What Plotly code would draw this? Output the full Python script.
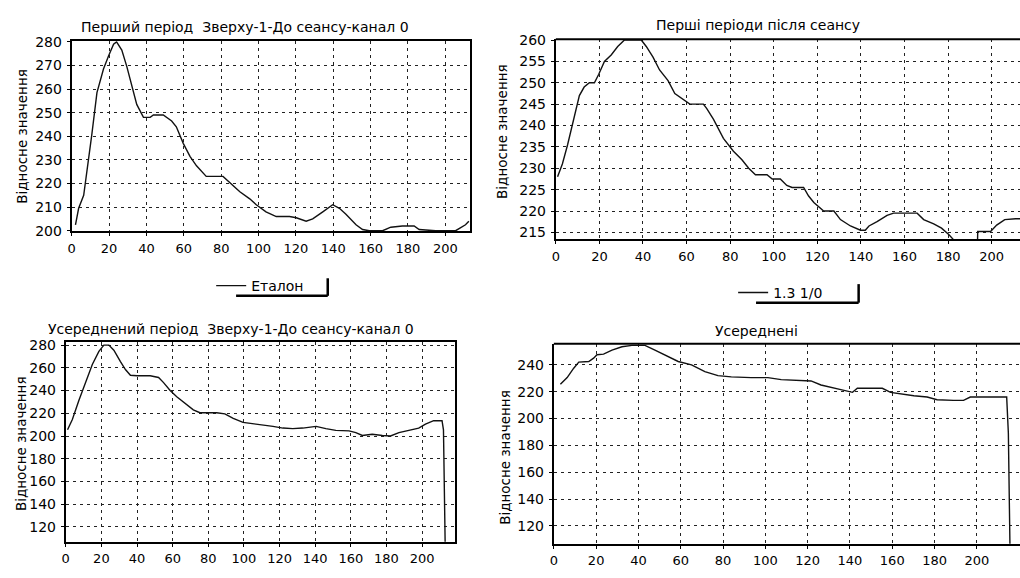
import plotly.graph_objects as go

# ---- data ----
x_etalon = [2, 3.7, 6.4, 9, 10.8, 13.5, 17, 19.7, 22.4, 24, 26.8, 29.5, 32, 34.8, 38.4,
            42, 43.7, 49, 53.5, 56, 59.7, 63.3, 66.8, 72, 81, 84.6, 90, 95.3, 98.8, 104,
            109.5, 116.6, 120.2, 125.5, 129, 134.4, 139.7, 143.3, 146.8, 152.2, 155.7,
            159.3, 166.4, 170.8, 177, 183.3, 186, 194.8, 205.5, 210.8, 212.6]
y_etalon = [202.5, 209.5, 215, 230, 241, 258.5, 268.5, 274, 279, 280, 276.5, 269.5, 261.5,
            253.5, 248, 248, 249, 249, 246.5, 244, 237, 231.5, 227.5, 223, 223, 220.5,
            216.5, 213.5, 211, 208, 206, 206, 205.5, 204, 205, 208, 211, 209.5, 207,
            202.5, 200.5, 200, 200, 201.5, 202, 202, 200.5, 200, 200, 202.5, 204]

x_after = [0.8, 3, 5.4, 8.5, 10.8, 13, 15.4, 17.7, 19.7, 22.3, 25.4, 28.4, 31.5, 35.3, 39.2,
           41.5, 44.6, 47.6, 51.5, 54.6, 58.5, 61.5, 67.7, 69.2, 72.3, 76.9, 81.5, 85.4,
           88.5, 91.6, 96.9, 99.3, 103, 106, 108.4, 113.7, 116, 118.4, 122.9, 127.6,
           130.6, 135.2, 139.8, 142, 143.7, 147.4, 152, 155, 165.8, 168.8, 173.4, 177,
           180.3, 182.5, 185, 190, 193.5, 193.6, 199.5, 202.3, 206, 211, 215]
y_after = [228, 231, 235.5, 242.5, 247, 249, 250, 250, 252, 255, 256.5, 258.5, 260, 260, 260,
           258.5, 256, 253, 250.5, 247.5, 246, 245, 245, 244, 241.5, 237, 234, 232, 230,
           228.5, 228.5, 227.5, 227.5, 226, 225.5, 225.5, 223.5, 222, 220, 220, 218,
           216.5, 215.5, 215.5, 216.5, 217.5, 219, 219.5, 219.5, 218, 217, 216, 214.5,
           213.3, 212.5, 212.5, 212.5, 215.2, 215.2, 216.7, 218, 218.2, 218.2]

x_avg_before = [1, 3.7, 7.4, 11.2, 14.9, 18.6, 21.4, 24.2, 27, 30.7, 33.5, 36.3, 40, 47.4,
                52.1, 54.9, 58.6, 62.3, 67, 71.6, 75.3, 84.7, 89.3, 94, 99.5, 105, 110.7,
                116.3, 121.9, 127.4, 133, 140.5, 146, 151.6, 159, 162.8, 166.5, 172, 177.7,
                182.3, 187, 192.6, 198.1, 201.9, 206.5, 211.2, 212, 213]
y_avg_before = [205.5, 214.5, 231.5, 247, 263, 274.5, 280, 280, 275.5, 265.5, 258.5, 253.5,
                253, 253, 251.5, 247, 240, 234.5, 228.5, 223, 220.5, 220.5, 219.5, 215.5,
                212, 211, 210, 208.5, 207, 206.5, 207, 208.5, 206.5, 205, 204.5, 203, 200.5,
                201.5, 200.5, 200, 203, 205, 207, 210.5, 213.5, 213.5, 205.5, 100]

x_avg_after = [3.1, 6.3, 9.4, 11.8, 16.5, 18.8, 20.4, 23.5, 27.5, 32.2, 36.9, 43.1, 47.8,
               52.5, 58.8, 65.1, 71.4, 77.6, 83.9, 93.3, 101.2, 107.5, 113.7, 121.6, 126.3,
               131, 135.7, 141.2, 143.5, 149.8, 155.3, 159.2, 165.5, 170.2, 176.5, 181.2,
               189, 193.7, 196.9, 201.6, 206.3, 211, 214.1, 214.9, 215.7]
y_avg_after = [225.5, 230.5, 237.5, 242, 242.5, 245, 247.5, 248, 251, 253.5, 254.5, 254.5,
               251, 247.5, 242.5, 240, 235, 232, 231, 230.5, 230.5, 229, 228.5, 228, 225,
               223, 221.5, 219.5, 222.5, 222.5, 222.5, 219.5, 218, 217, 216, 214, 213.5,
               213.5, 216, 216, 216.5, 216, 216, 189, 100]

x_ticks = list(range(0, 201, 20))
y_ticks_tl = list(range(200, 281, 10))
y_ticks_tr = list(range(215, 261, 5))
y_ticks_bl = list(range(120, 281, 20))
y_ticks_br = list(range(120, 241, 20))

titles = ["Перший період  Зверху-1-До сеансу-канал 0",
          "Перші періоди після сеансу",
          "Усереднений період  Зверху-1-До сеансу-канал 0",
          "Усереднені"]
y_title = "Відносне значення"
name_etalon = "Еталон"
name_after = "1.3 1/0"

# ---- figure ----
W, H = 1020, 578
FONT = "DejaVu Sans"


def px(x):
    return x / W


def py(y):
    return 1 - y / H


fig = go.Figure()
line = dict(color="#111111", width=1.4)
fig.add_trace(go.Scatter(x=x_etalon, y=y_etalon, mode="lines", line=line,
                         name=name_etalon, xaxis="x", yaxis="y", legend="legend"))
fig.add_trace(go.Scatter(x=x_after, y=y_after, mode="lines", line=line,
                         name=name_after, xaxis="x2", yaxis="y2", legend="legend2"))
fig.add_trace(go.Scatter(x=x_avg_before, y=y_avg_before, mode="lines", line=line,
                         showlegend=False, xaxis="x3", yaxis="y3"))
fig.add_trace(go.Scatter(x=x_avg_after, y=y_avg_after, mode="lines", line=line,
                         showlegend=False, xaxis="x4", yaxis="y4"))

grid = dict(showgrid=True, gridcolor="#222222", gridwidth=1, griddash="3px,4px",
            showline=True, linecolor="black", linewidth=2, ticks="outside",
            ticklen=3, tickcolor="black", zeroline=False)

# boxes in pixels: (x0, x1, ytop, ybottom)
boxes = {
    "1": (68, 468, 35, 230),
    "2": (554, 1020, 33, 238),
    "3": (62, 453, 343, 548),
    "4": (552, 1020, 345, 550),
}
xr = {"1": [0, 213.3], "2": [0, 213], "3": [0, 218.6], "4": [0, 220.4]}
yr = {"1": [199.7, 280.3], "2": [213.4, 260.2], "3": [107, 283], "4": [106.7, 255.8]}
yt = {"1": y_ticks_tl, "2": y_ticks_tr, "3": y_ticks_bl, "4": y_ticks_br}

for k, (x0, x1, yt0, yb0) in boxes.items():
    suffix = "" if k == "1" else k
    right = k in ("2", "4")
    fig.layout["xaxis" + suffix] = dict(
        grid, domain=[px(x0), px(x1)], range=xr[k], tickvals=x_ticks,
        anchor="y" + suffix, mirror=not right, ticklabelstandoff=1,
        tickfont=dict(family=FONT, size=13, color="black"))
    fig.layout["yaxis" + suffix] = dict(
        grid, domain=[py(yb0), py(yt0)], range=yr[k], tickvals=yt[k],
        anchor="x" + suffix, mirror=not right, ticklabelstandoff=2,
        tickfont=dict(family=FONT, size=14, color="black"))
    if right:
        fig.add_shape(type="line", xref="paper", yref="paper",
                      x0=px(x0), x1=1.02, y0=py(yt0), y1=py(yt0),
                      line=dict(color="black", width=2))

# subplot titles
title_pos = [(242, 20), (757, 18), (228, 330), (755, 332)]
for t, (tx, ty) in zip(titles, title_pos):
    fig.add_annotation(text=t, x=px(tx), y=py(ty), xref="paper", yref="paper",
                       showarrow=False, xanchor="center", yanchor="middle",
                       font=dict(family=FONT, size=14, color="black"))

# y-axis titles
ytitle_pos = [(18, 132), (500, 128), (17, 447), (503, 462)]
for (tx, ty) in ytitle_pos:
    fig.add_annotation(text=y_title, x=px(tx), y=py(ty), xref="paper", yref="paper",
                       showarrow=False, textangle=-90, xanchor="center", yanchor="middle",
                       font=dict(family=FONT, size=13.5, color="black"))

# legends
legend_common = dict(bgcolor="rgba(0,0,0,0)", borderwidth=0, itemwidth=30,
                     font=dict(family=FONT, size=14, color="black"),
                     xanchor="left", yanchor="middle", tracegroupgap=0)
fig.update_layout(
    legend=dict(legend_common, x=px(208), y=py(286)),
    legend2=dict(legend_common, x=px(732), y=py(293)),
)
# legend frame (bottom and right edges)
for (lx0, lx1, ly_top, ly_bot) in [(233, 325, 278, 296), (755, 858, 284, 303)]:
    fig.add_shape(type="line", xref="paper", yref="paper",
                  x0=px(lx0), x1=px(lx1), y0=py(ly_bot), y1=py(ly_bot),
                  line=dict(color="black", width=2.5))
    fig.add_shape(type="line", xref="paper", yref="paper",
                  x0=px(lx1), x1=px(lx1), y0=py(ly_bot), y1=py(ly_top),
                  line=dict(color="black", width=2.5))

fig.update_layout(
    width=W, height=H, margin=dict(l=0, r=0, t=0, b=0),
    paper_bgcolor="white", plot_bgcolor="white",
    font=dict(family=FONT, color="black"),
)

fig.write_html("out.html", config={"displayModeBar": False},
               post_script="document.body.style.margin='0';document.body.style.padding='0';")
